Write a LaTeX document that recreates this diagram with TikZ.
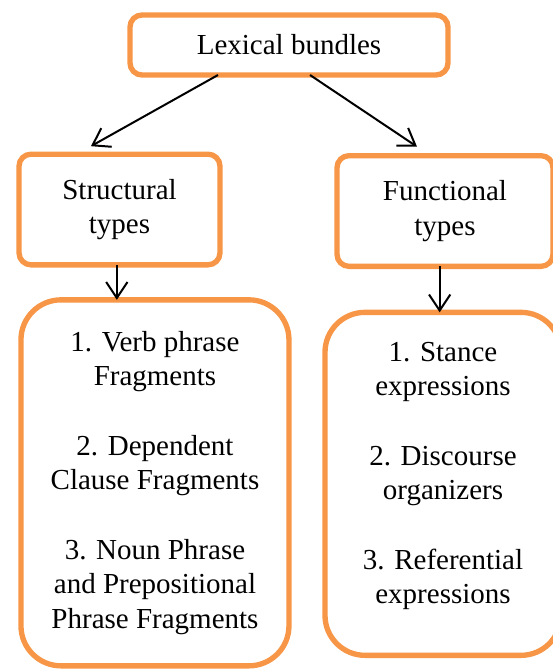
\documentclass[tikz,border=0pt]{standalone}
\usepackage{fontspec}
\setmainfont{LiberationSerif}[Extension=.ttf, UprightFont=*-Regular]
\newfontfamily\boxfont{LiberationSerif}[Extension=.ttf, UprightFont=*-Regular]
\usepackage{xcolor}
\usepackage{tikz}
\usetikzlibrary{arrows.meta,positioning}

\definecolor{boxorange}{HTML}{F79646}

\begin{document}
\begin{tikzpicture}[
    x=0.75pt, y=-0.75pt,
    topic/.style={rectangle, rounded corners=9pt, draw=boxorange, line width=4pt, fill=white, align=center, inner sep=0pt, outer sep=0pt, font=\boxfont\fontsize{21.75}{26}\selectfont},
    typebox/.style={topic, minimum height=83pt},
    listbox/.style={topic, rounded corners=30pt},
    listtext/.style={align=center, inner sep=0pt, font=\boxfont\fontsize{21.75}{26}\selectfont},
    arrow/.style={line width=1.5pt,->,>={Straight Barb[length=12pt,width=16pt]}}
]
\clip (0,0) rectangle (553,669);

% Top - root
\node[topic, minimum width=238.5pt, minimum height=45pt] (lexical) at (289,45) {Lexical bundles};

% Left and right - the two kinds
\node[typebox, minimum width=150.75pt] (structural) at (119.5,209.5) {Structural\\types};
\node[typebox, minimum width=162pt] (functional) at (445,211) {Functional\\types};

% Bottom - the lists
\node[listbox, minimum width=201pt, minimum height=274.5pt, below=26.25pt of structural, xshift=26.6pt] (structlist) {1. Verb phrase\\Fragments\\[26pt]2. Dependent\\Clause Fragments\\[26pt]3. Noun Phrase\\and Prepositional\\Phrase Fragments};
\node[listbox, minimum width=177pt, minimum height=257.25pt, below=34.5pt of functional, xshift=-1.5pt] (funclist) {};
\node[listtext] (functext) at ([yshift=6pt]funclist.center) {1. Stance\\expressions\\[26pt]2. Discourse\\organizers\\[26pt]3. Referential\\expressions};

% Arrows
\draw[arrow] ([xshift=-53.25pt]lexical.south) -- ([xshift=-21.4pt,yshift=6pt]structural.north);
\draw[arrow] ([xshift=15.75pt]lexical.south) -- ([xshift=-21pt,yshift=6.75pt]functional.north);
\draw[arrow] ([xshift=-2pt]structural.south) -- ([xshift=-2pt]structural.south |- structlist.north);
\draw[arrow] ([xshift=-4pt]functional.south) -- ([xshift=-4pt]functional.south |- funclist.north);

\end{tikzpicture}
\end{document}
